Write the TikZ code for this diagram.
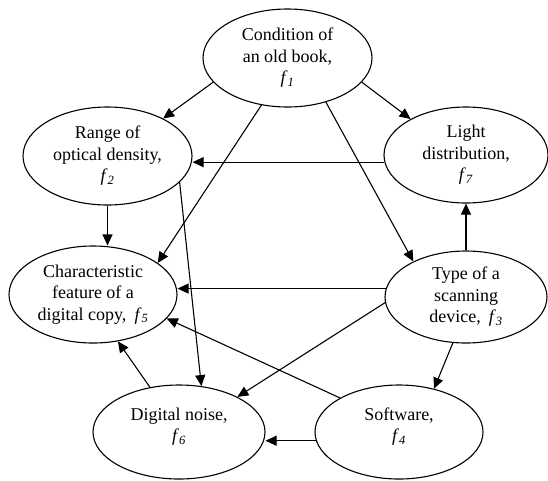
\documentclass[tikz,border=0pt]{standalone}
\usepackage{fontspec}
\setmainfont{Liberation Serif}
\usetikzlibrary{shapes.geometric,arrows.meta}
% italic factor symbol with italic subscript index
\newcommand\fsub[1]{\textit{f}\textsubscript{\textit{#1}}}
\begin{document}
\begin{tikzpicture}[x=1pt,y=-1pt,
  factor/.style={ellipse,draw,line width=1.1pt,inner sep=0pt,align=center,
    font=\fontsize{18}{21.5}\selectfont},
  link/.style={line width=1.1pt,-{Triangle[length=11pt,width=10pt]}}]
\useasboundingbox (0,0) rectangle (548,480);

% factors
\node[factor,minimum width=169pt,minimum height=98pt] (f1) at (287.5,58)
  {Condition of\\an old book,\\\fsub{1}};
\node[factor,minimum width=169pt,minimum height=98pt] (f2) at (107.5,156)
  {Range of\\optical density,\\\fsub{2}};
\node[factor,minimum width=164pt,minimum height=96pt] (f7) at (466,155)
  {Light\\distribution,\\\fsub{7}};
\node[factor,minimum width=168pt,minimum height=97pt] (f5) at (93,294.5)
  {Characteristic\\feature of a\\digital copy,\hspace{0.45em}\fsub{5}};
\node[factor,minimum width=162pt,minimum height=92pt] (f3) at (466,297)
  {Type of a\\scanning\\device,\hspace{0.45em}\fsub{3}};
\node[factor,minimum width=172pt,minimum height=94pt] (f6) at (179,432)
  {Digital noise,\\\fsub{6}\\[-7pt]\mbox{}};
\node[factor,minimum width=168pt,minimum height=94pt] (f4) at (399,432)
  {Software,\\\fsub{4}\\[-7pt]\mbox{}};

% influences
\draw[link] (f1.198) -- (f2.34);
\draw[link] (f1.-18) -- (f7.147);
\draw[link] (f1.241) -- (f5.26);
\draw[link] (f1.-49) -- (f3.146);
\draw[link] (f7.185) -- (f7.185 -| f2.east);
\draw[link] (f2.south) -- (f2.south |- f5.north);
\draw[link] (f2.-20) -- (f6.64);
\draw[link] (f3.north) -- (f3.north |- f7.south);
\draw[link] (f3.174) -- (f3.174 -| f5.east);
\draw[link] (f3.184) -- (f6.31);
\draw[link] (f3.254) -- (f4.51);
\draw[link] (f4.150) -- (f5.-18);
\draw[link] (f4.186) -- (f4.186 -| f6.east);
\draw[link] (f6.123) -- (f5.-62);
\end{tikzpicture}
\end{document}
